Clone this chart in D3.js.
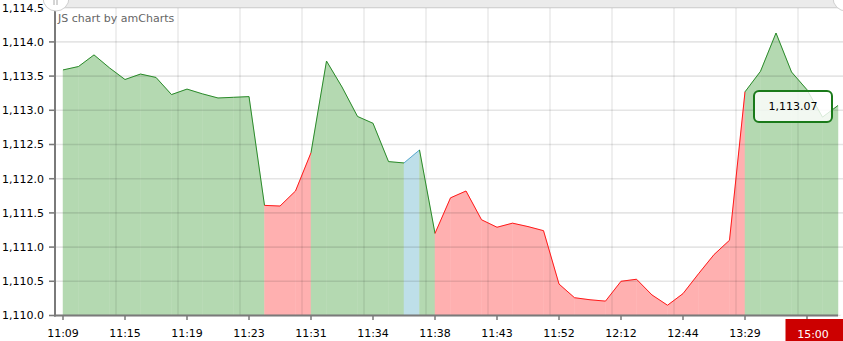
<!DOCTYPE html>
<html><head><meta charset="utf-8">
<script src="https://cdn.jsdelivr.net/npm/d3@7"></script>
<style>html,body{margin:0;padding:0;background:#fff;}svg{display:block;font-family:"DejaVu Sans",Verdana,sans-serif;}</style>
</head><body>
<svg id="c" width="843" height="341"></svg>
<script>
// values per point (51 points)
const values = [1113.59,1113.64,1113.81,1113.62,1113.45,1113.53,1113.48,1113.23,1113.31,1113.24,
1113.18,1113.19,1113.20,1111.61,1111.60,1111.82,1112.38,1113.72,1113.34,1112.91,
1112.81,1112.25,1112.23,1112.42,1111.20,1111.72,1111.82,1111.40,1111.29,1111.35,
1111.30,1111.24,1110.46,1110.26,1110.23,1110.21,1110.50,1110.53,1110.30,1110.15,
1110.32,1110.61,1110.89,1111.10,1113.27,1113.57,1114.13,1113.56,1113.30,1112.90,1113.07];
// segment colour group starting at each point
const groups = ["g","g","g","g","g","g","g","g","g","g","g","g","g","r","r","r","g","g","g","g",
"g","g","b","g","r","r","r","r","r","r","r","r","r","r","r","r","r","r","r","r",
"r","r","r","r","g","g","g","g","g","g","g"];
const tickLabels = ["11:09","11:15","11:19","11:23","11:31","11:34","11:38","11:43","11:52","12:12","12:44","13:29","15:00"];
const yTicks = [1110,1110.5,1111,1111.5,1112,1112.5,1113,1113.5,1114,1114.5];
const balloonValue = 1113.07;

const lineCol = {g:"#2a8a2a", r:"#ff1a1a", b:"#5aa9cf"};
const fillCol = {g:"#b4d9b1", r:"#ffb0b0", b:"#bedfe9"};

const svg = d3.select("#c");
const x = d3.scaleLinear().domain([0, values.length-1]).range([63, 838]);
const y = d3.scaleLinear().domain([1110, 1114.5]).range([315.5, 7.7]);
const fmt = d3.format(",.1f");

// top scrollbar band
svg.append("rect").attr("x",55).attr("y",0).attr("width",788).attr("height",8).attr("fill","#ebebeb");

// fills
const area = d3.area().x(d=>x(d.i)).y0(y(1110)).y1(d=>y(d.v));
const line = d3.line().x(d=>x(d.i)).y(d=>y(d.v));
for (let i=0;i<values.length-1;i++){
  const seg=[{i:i,v:values[i]},{i:i+1,v:values[i+1]}];
  svg.append("path").attr("d",area(seg)).attr("fill",fillCol[groups[i]]).attr("stroke",fillCol[groups[i]]).attr("stroke-width",0.5);
}
// grid
yTicks.forEach(t=>{
  svg.append("line").attr("x1",49).attr("x2",843).attr("y1",y(t)).attr("y2",y(t))
    .attr("stroke","rgba(0,0,0,0.1)").attr("stroke-width",1.6);
});
const step = x(1)-x(0);
tickLabels.forEach((t,k)=>{
  if(k>0){
    const gx = x(k*4) - step*0.58;
    svg.append("line").attr("x1",gx).attr("x2",gx).attr("y1",8).attr("y2",315)
      .attr("stroke","rgba(0,0,0,0.13)").attr("stroke-width",1);
  }
});
// lines
for (let i=0;i<values.length-1;i++){
  const seg=[{i:i,v:values[i]},{i:i+1,v:values[i+1]}];
  svg.append("path").attr("d",line(seg)).attr("fill","none").attr("stroke",lineCol[groups[i]]).attr("stroke-width",1);
}
// y axis
svg.append("line").attr("x1",55).attr("x2",55).attr("y1",8).attr("y2",316.5).attr("stroke","#7a7a7a").attr("stroke-width",2);
yTicks.forEach(t=>{
  svg.append("line").attr("x1",49).attr("x2",55).attr("y1",y(t)).attr("y2",y(t)).attr("stroke","#7a7a7a").attr("stroke-width",1.5);
  svg.append("text").attr("x",44).attr("y",y(t)).attr("dy","0.35em").attr("text-anchor","end")
    .attr("font-size",11).attr("fill","#000").text(fmt(t));
});
// x axis
svg.append("line").attr("x1",54).attr("x2",838).attr("y1",315.5).attr("y2",315.5).attr("stroke","#7a7a7a").attr("stroke-width",2);
tickLabels.forEach((t,k)=>{
  const tx = x(k*4);
  svg.append("line").attr("x1",tx).attr("x2",tx).attr("y1",315.5).attr("y2",320).attr("stroke","#7a7a7a").attr("stroke-width",1.5);
  if(k<tickLabels.length-1){
    svg.append("text").attr("x",tx).attr("y",337).attr("text-anchor","middle").attr("font-size",11).attr("fill","#000").text(t);
  }
});
// cursor category balloon
const lastK = tickLabels.length-1;
svg.append("rect").attr("x",785.5).attr("y",319).attr("width",60).attr("height",23).attr("fill","#cc0000");
svg.append("path").attr("d","M837,319 L843,319 L843,313 Z").attr("fill","#fff");
svg.append("text").attr("x",x(lastK*4)+6).attr("y",338).attr("text-anchor","middle").attr("font-size",11).attr("fill","#fff").text(tickLabels[lastK]);

// scrollbar grips
svg.append("circle").attr("cx",56).attr("cy",-2).attr("r",13).attr("fill","#fff").attr("stroke","#cfcfcf");
svg.append("line").attr("x1",54).attr("x2",54).attr("y1",0).attr("y2",5).attr("stroke","#aaa");
svg.append("line").attr("x1",57).attr("x2",57).attr("y1",0).attr("y2",5).attr("stroke","#aaa");
svg.append("circle").attr("cx",846).attr("cy",-2).attr("r",13).attr("fill","#fff").attr("stroke","#cfcfcf");

// credit
svg.append("text").attr("x",58).attr("y",22).attr("font-size",11).attr("fill","#666").text("JS chart by amCharts");

// value balloon
const bx=754, by=91, bw=78, bh=31;
svg.append("rect").attr("x",bx).attr("y",by).attr("width",bw).attr("height",bh).attr("rx",5)
  .attr("fill","rgba(255,255,255,0.82)").attr("stroke","#1a7a1a").attr("stroke-width",2);
svg.append("text").attr("x",bx+bw/2).attr("y",by+bh/2).attr("dy","0.35em").attr("text-anchor","middle")
  .attr("font-size",11).attr("fill","#000").text(d3.format(",.2f")(balloonValue));
</script>
</body></html>
